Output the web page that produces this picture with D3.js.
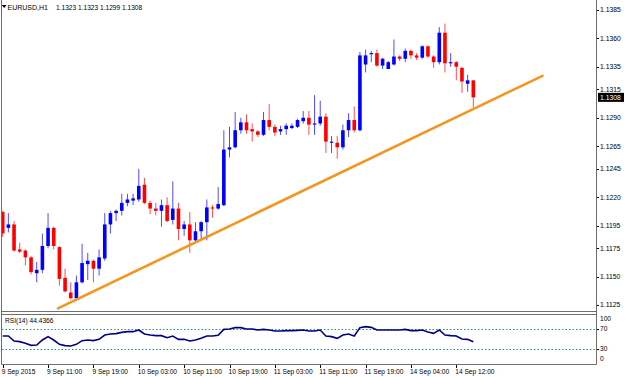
<!DOCTYPE html>
<html>
<head>
<meta charset="utf-8">
<script src="https://cdn.jsdelivr.net/npm/d3@7"></script>
<style>
  body { margin: 0; background: #fff; }
  svg { display: block; font-family: "Liberation Sans", Arial, sans-serif; }
</style>
</head>
<body>
<div id="chart"></div>
<script>
// EURUSD H1 bars, 9 Sep 2015 00:00 .. 14 Sep 15:00
const open = [1.1207,1.1193,1.1196,1.1174,1.1173,1.1167,1.1153,1.1156,1.1177,1.1193,
  1.1176,1.1149,1.1136,1.1131,1.1145,1.1161,1.1164,1.1157,1.1166,1.1196,
  1.1206,1.1208,1.1215,1.1217,1.1218,1.1231,1.1215,1.1210,1.1208,1.1213,
  1.1200,1.1210,1.1192,1.1196,1.1182,1.1190,1.1198,1.1211,1.1210,1.1213,
  1.1262,1.1264,1.1279,1.1286,1.1280,1.1278,1.1275,1.1288,1.1282,1.1278,
  1.1280,1.1281,1.1282,1.1287,1.1290,1.1284,1.1285,1.1291,1.1268,1.1268,
  1.1264,1.1279,1.1288,1.1279,1.1337,1.1346,1.1347,1.1336,1.1333,1.1337,
  1.1344,1.1342,1.1349,1.1345,1.1343,1.1353,1.1344,1.1339,1.1365,1.1338,
  1.1339,1.1334,1.1320,1.1323];
const high = [1.1208,1.1206,1.1199,1.1180,1.1174,1.1168,1.1163,1.1188,1.1206,1.1194,
  1.1177,1.1157,1.1145,1.1151,1.1179,1.1171,1.1165,1.1174,1.1206,1.1208,
  1.1209,1.1223,1.1223,1.1223,1.1245,1.1237,1.1217,1.1215,1.1218,1.1220,
  1.1234,1.1215,1.1199,1.1207,1.1198,1.1199,1.1218,1.1213,1.1229,1.1279,
  1.1282,1.1295,1.1290,1.1293,1.1285,1.1279,1.1295,1.1302,1.1284,1.1283,
  1.1285,1.1285,1.1289,1.1296,1.1296,1.1310,1.1305,1.1294,1.1274,1.1274,
  1.1284,1.1294,1.1300,1.1348,1.1350,1.1349,1.1350,1.1343,1.1340,1.1359,
  1.1345,1.1351,1.1350,1.1347,1.1354,1.1354,1.1345,1.1370,1.1373,1.1347,
  1.1340,1.1335,1.1328,1.1323];
const low = [1.1185,1.1189,1.1172,1.1171,1.1160,1.1152,1.1145,1.1153,1.1175,1.1174,
  1.1142,1.1136,1.1130,1.1130,1.1144,1.1147,1.1145,1.1151,1.1164,1.1188,
  1.1199,1.1204,1.1212,1.1213,1.1216,1.1214,1.1205,1.1204,1.1194,1.1198,
  1.1196,1.1182,1.1186,1.1171,1.1181,1.1182,1.1182,1.1202,1.1209,1.1212,
  1.1255,1.1263,1.1276,1.1276,1.1269,1.1273,1.1274,1.1279,1.1274,1.1275,
  1.1275,1.1280,1.1281,1.1285,1.1275,1.1275,1.1283,1.1259,1.1259,1.1254,
  1.1262,1.1273,1.1277,1.1278,1.1330,1.1339,1.1335,1.1333,1.1333,1.1336,
  1.1340,1.1339,1.1342,1.1341,1.1342,1.1343,1.1334,1.1337,1.1330,1.1335,
  1.1323,1.1312,1.1313,1.1299];
const close = [1.1188,1.1196,1.1173,1.1172,1.1167,1.1154,1.1156,1.1177,1.1193,1.1177,
  1.1148,1.1137,1.1131,1.1145,1.1162,1.1164,1.1157,1.1167,1.1196,1.1206,
  1.1208,1.1215,1.1218,1.1219,1.1230,1.1215,1.1210,1.1208,1.1213,1.1199,
  1.1210,1.1192,1.1196,1.1182,1.1190,1.1198,1.1211,1.1210,1.1214,1.1262,
  1.1264,1.1279,1.1286,1.1279,1.1278,1.1275,1.1288,1.1282,1.1277,1.1280,
  1.1283,1.1283,1.1288,1.1290,1.1284,1.1285,1.1291,1.1269,1.1269,1.1264,
  1.1279,1.1288,1.1279,1.1345,1.1345,1.1347,1.1336,1.1342,1.1339,1.1344,
  1.1342,1.1349,1.1345,1.1343,1.1353,1.1344,1.1339,1.1365,1.1338,1.1339,
  1.1335,1.1322,1.1323,1.1308];
const rsi = [56,56,46,44.7,41.3,37.3,38,48,54.7,48,
  39.3,36.7,36,39.3,46.7,48,46.7,49.3,58,60,
  60.7,63.3,64.7,64.7,68,60,58,56.7,56.7,52.7,
  56,49.3,49.3,46,48,51.3,56,56,57.3,69.3,
  70,72.7,72.7,70,70,68,69.3,68,66,66,
  66.7,66.7,67.3,68,66,66,68,56,54.7,51.3,
  58,60,56,72.7,74.7,73.3,68,68,68,68,
  68,69.3,66.7,66.7,68,64,61.3,68,58,56.7,
  56,50,49.3,44.4366];

const priceTicks = ["1.1385","1.1360","1.1335","1.1315","1.1290","1.1265",
  "1.1245","1.1220","1.1195","1.1175","1.1150","1.1125"];
const timeLabels = ["9 Sep 2015","9 Sep 11:00","9 Sep 19:00","10 Sep 03:00","10 Sep 11:00",
  "10 Sep 19:00","11 Sep 03:00","11 Sep 11:00","11 Sep 19:00","14 Sep 04:00","14 Sep 12:00"];
const timeLabelBars = [0,8,16,24,32,40,48,56,64,72,80];
const rsiLevels = [70, 30];
const rsiTicks = [100, 70, 30, 0];
// trend line anchors (bar index, price)
const trendBars = [9.75, 95.2];
const trendPrices = [1.1122, 1.1327];

const width = 625, height = 377;
const plotRight = 596;

const svg = d3.select("#chart").append("svg")
  .attr("width", width)
  .attr("height", height);

const x = d3.scaleLinear().domain([0, 80]).range([2.7, 456.3]);
const y = d3.scaleLinear().domain([1.1385, 1.1125]).range([10, 305]);
const yr = d3.scaleLinear().domain([0, 100]).range([364, 314]);

const bars = open.map((o, i) => ({ i: i, o: o, h: high[i], l: low[i], c: close[i] }));

svg.append("clipPath").attr("id", "mainClip")
  .append("rect").attr("x", 2).attr("y", 0).attr("width", plotRight - 2).attr("height", 311);

const main = svg.append("g").attr("clip-path", "url(#mainClip)");

// wicks
main.selectAll(".wick")
  .data(bars)
  .enter().append("line")
  .attr("class", "wick")
  .attr("x1", d => x(d.i))
  .attr("x2", d => x(d.i))
  .attr("y1", d => y(d.h))
  .attr("y2", d => y(d.l))
  .attr("stroke", d => d.c >= d.o ? "#0000ff" : "#ff0000")
  .attr("stroke-opacity", 0.7)
  .attr("stroke-width", 1);

// bodies
main.selectAll(".body")
  .data(bars)
  .enter().append("rect")
  .attr("class", "body")
  .attr("x", d => x(d.i) - 1.8)
  .attr("width", 3.6)
  .attr("y", d => y(Math.max(d.o, d.c)))
  .attr("height", d => Math.max(1, Math.abs(y(d.o) - y(d.c))))
  .attr("fill", d => d.c >= d.o ? "#0000ff" : "#ff0000");

// trend line
main.append("line")
  .attr("x1", x(trendBars[0])).attr("y1", y(trendPrices[0]))
  .attr("x2", x(trendBars[1])).attr("y2", y(trendPrices[1]))
  .attr("stroke", "#f7941d")
  .attr("stroke-width", 2.6)
  .attr("stroke-linecap", "round");

// frame
const frame = svg.append("g").attr("stroke", "#6e6e6e").attr("stroke-width", 1);
frame.append("line").attr("x1", 1.5).attr("x2", 1.5).attr("y1", 0).attr("y2", 364.5);
frame.append("line").attr("x1", plotRight + 0.5).attr("x2", plotRight + 0.5).attr("y1", 0).attr("y2", 364.5);
frame.append("line").attr("x1", 1.5).attr("x2", plotRight + 0.5).attr("y1", 311.5).attr("y2", 311.5);
frame.append("line").attr("x1", 1.5).attr("x2", plotRight + 0.5).attr("y1", 314.5).attr("y2", 314.5);
frame.append("line").attr("x1", 1.5).attr("x2", plotRight + 0.5).attr("y1", 364.5).attr("y2", 364.5);

// price axis
const pAxis = svg.append("g");
pAxis.selectAll("line")
  .data(priceTicks)
  .enter().append("line")
  .attr("x1", plotRight + 1).attr("x2", plotRight + 3)
  .attr("y1", d => Math.round(y(+d)) + 0.5)
  .attr("y2", d => Math.round(y(+d)) + 0.5)
  .attr("stroke", "#000");
pAxis.selectAll("text")
  .data(priceTicks)
  .enter().append("text")
  .attr("x", 600)
  .attr("y", d => y(+d) + 2.4)
  .attr("font-size", 6.8)
  .attr("fill", "#000")
  .text(d => d);

// last price box
const last = close[close.length - 1];
svg.append("rect")
  .attr("x", 598).attr("y", y(last) - 4.5)
  .attr("width", 26).attr("height", 9)
  .attr("fill", "#000");
svg.append("text")
  .attr("x", 600).attr("y", y(last) + 2.4)
  .attr("font-size", 6.8)
  .attr("fill", "#fff")
  .text(last.toFixed(4));

// header
svg.append("path")
  .attr("d", "M1.8,5 L6.6,5 L4.2,8 Z")
  .attr("fill", "#000");
svg.append("text")
  .attr("x", 7.5).attr("y", 9.6)
  .attr("font-size", 7)
  .attr("fill", "#000")
  .text("EURUSD,H1");
svg.append("text")
  .attr("x", 56).attr("y", 9.6)
  .attr("font-size", 6.6)
  .attr("fill", "#000")
  .text([open[83], high[83], low[83], close[83]].map(v => v.toFixed(4)).join(" "));

// RSI panel
svg.selectAll(".level")
  .data(rsiLevels)
  .enter().append("line")
  .attr("class", "level")
  .attr("x1", 2).attr("x2", plotRight)
  .attr("y1", d => yr(d) + 0.5).attr("y2", d => yr(d) + 0.5)
  .attr("stroke", "#2a8f8f")
  .attr("stroke-width", 1)
  .attr("stroke-dasharray", "1.5,2");

const rsiLine = d3.line()
  .x((d, i) => x(i))
  .y(d => yr(d));

svg.append("path")
  .datum(rsi)
  .attr("d", rsiLine)
  .attr("fill", "none")
  .attr("stroke", "#000080")
  .attr("stroke-width", 1.6);

svg.append("text")
  .attr("x", 5).attr("y", 322.5)
  .attr("font-size", 6.6)
  .attr("fill", "#000")
  .text("RSI(14) " + rsi[rsi.length - 1].toFixed(4));

svg.selectAll(".rsiTick")
  .data(rsiLevels)
  .enter().append("line")
  .attr("class", "rsiTick")
  .attr("x1", plotRight + 1).attr("x2", plotRight + 3)
  .attr("y1", d => yr(d) + 0.5).attr("y2", d => yr(d) + 0.5)
  .attr("stroke", "#000");

svg.selectAll(".rsiLabel")
  .data(rsiTicks)
  .enter().append("text")
  .attr("class", "rsiLabel")
  .attr("x", 600)
  .attr("y", d => Math.min(Math.max(yr(d), 319), 359) + 2.4)
  .attr("font-size", 6.6)
  .attr("fill", "#000")
  .text(d => d);

// time axis
svg.selectAll(".tTick")
  .data(timeLabelBars)
  .enter().append("line")
  .attr("class", "tTick")
  .attr("x1", d => Math.round(x(d)) + 0.5).attr("x2", d => Math.round(x(d)) + 0.5)
  .attr("y1", 365).attr("y2", 368)
  .attr("stroke", "#000");

svg.selectAll(".tLabel")
  .data(timeLabels)
  .enter().append("text")
  .attr("class", "tLabel")
  .attr("x", (d, i) => x(timeLabelBars[i]) - 1)
  .attr("y", 373.5)
  .attr("font-size", 6.6)
  .attr("fill", "#000")
  .text(d => d);
</script>
</body>
</html>
